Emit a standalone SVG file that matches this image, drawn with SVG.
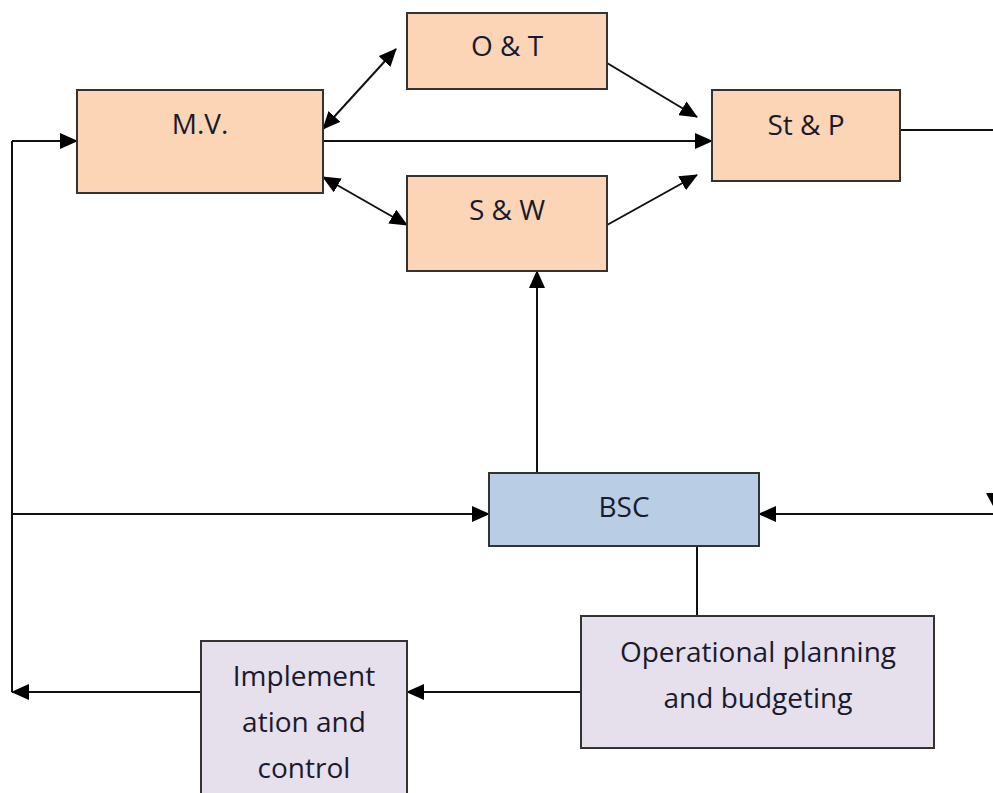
<svg xmlns="http://www.w3.org/2000/svg" width="993" height="793" viewBox="0 0 993 793">
<defs>
<marker id="ah" markerWidth="18" markerHeight="16" refX="17" refY="8" orient="auto-start-reverse" markerUnits="userSpaceOnUse">
<path d="M0,0 L18,8 L0,16 Z" fill="#000"/>
</marker>
<style>
.box{stroke:#333;stroke-width:2}
.o{fill:#FBD5B5}
.b{fill:#B9CDE5}
.p{fill:#E5E0EC}
.t{font-family:"Open Sans","Liberation Sans",sans-serif;font-size:28px;fill:#1a1a2e;text-anchor:middle}
.c{stroke:#111;stroke-width:2;fill:none}
</style>
</defs>
<rect width="993" height="793" fill="#fff"/>
<g id="connectors">
<line class="c" x1="12" y1="141" x2="12" y2="692"/>
<line class="c" x1="12" y1="141" x2="77" y2="141" marker-end="url(#ah)"/>
<line class="c" x1="12" y1="514" x2="489" y2="514" marker-end="url(#ah)"/>
<line class="c" x1="993" y1="514" x2="759" y2="514" marker-end="url(#ah)"/>
<path d="M986,493 L993,493 L993,506 Z" fill="#000"/>
<line class="c" x1="900" y1="130" x2="993" y2="130"/>
<line class="c" x1="537" y1="473" x2="537" y2="271" marker-end="url(#ah)"/>
<line class="c" x1="697" y1="546" x2="697" y2="616"/>
<line class="c" x1="581" y1="692" x2="407" y2="692" marker-end="url(#ah)"/>
<line class="c" x1="201" y1="692" x2="12" y2="692" marker-end="url(#ah)"/>
<line class="c" x1="323" y1="141" x2="712" y2="141" marker-end="url(#ah)"/>
<line class="c" x1="323" y1="129" x2="396" y2="49" marker-start="url(#ah)" marker-end="url(#ah)"/>
<line class="c" x1="323" y1="177" x2="407" y2="225" marker-start="url(#ah)" marker-end="url(#ah)"/>
<line class="c" x1="607" y1="63" x2="697" y2="117" marker-end="url(#ah)"/>
<line class="c" x1="607" y1="225" x2="697" y2="175" marker-end="url(#ah)"/>
</g>
<g id="mv"><rect class="box o" x="77" y="90" width="246" height="103"/><text class="t" x="200" y="134">M.V.</text></g>
<g id="ot"><rect class="box o" x="407" y="13" width="200" height="76"/><text class="t" x="507" y="56">O &amp; T</text></g>
<g id="sw"><rect class="box o" x="407" y="176" width="200" height="95"/><text class="t" x="507" y="220">S &amp; W</text></g>
<g id="stp"><rect class="box o" x="712" y="90" width="188" height="91"/><text class="t" x="806" y="135">St &amp; P</text></g>
<g id="bsc"><rect class="box b" x="489" y="473" width="270" height="73"/><text class="t" x="624" y="517">BSC</text></g>
<g id="opb"><rect class="box p" x="581" y="616" width="353" height="132"/><text class="t" x="758" y="662">Operational planning</text><text class="t" x="758" y="708">and budgeting</text></g>
<g id="impl"><rect class="box p" x="201" y="641" width="206" height="160"/><text class="t" x="304" y="686">Implement</text><text class="t" x="304" y="732">ation and</text><text class="t" x="304" y="778">control</text></g>
</svg>
